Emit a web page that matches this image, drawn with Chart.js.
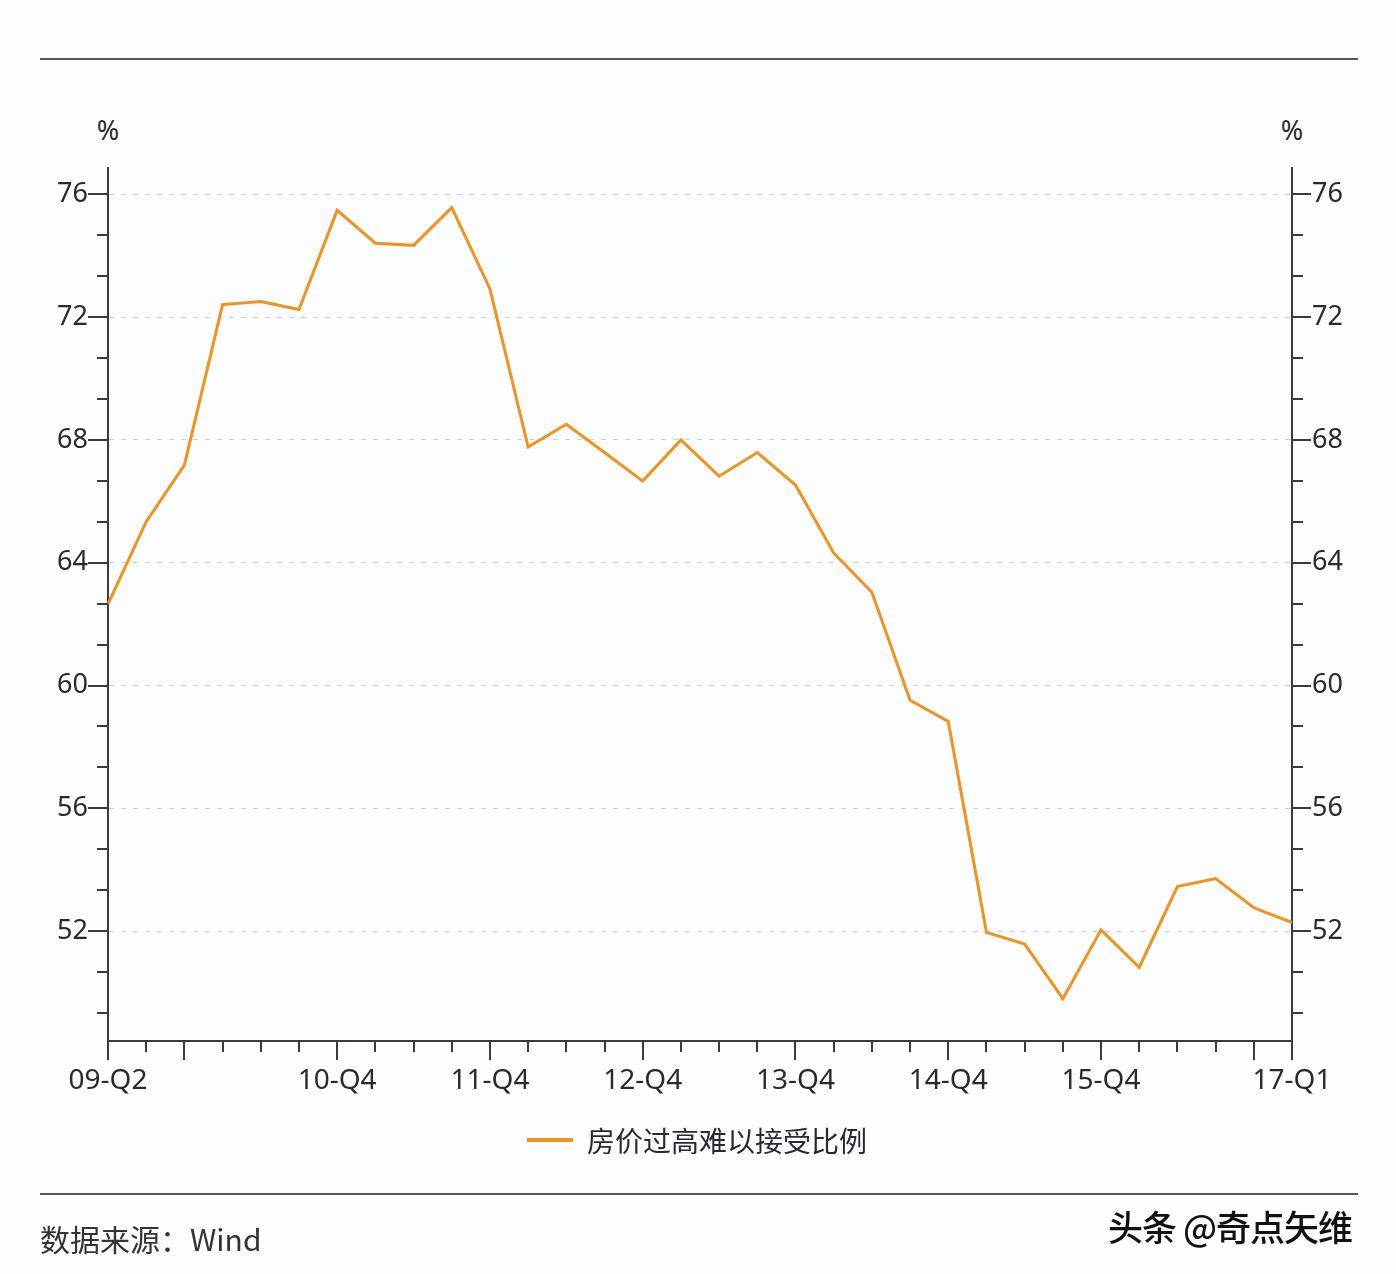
<!DOCTYPE html>
<html>
<head>
<meta charset="utf-8">
<script src="https://cdn.jsdelivr.net/npm/chart.js@4/dist/chart.umd.min.js"></script>
<style>
  html, body { margin:0; padding:0; background:#fcfdfe; }
  body { width:1396px; height:1274px; position:relative; overflow:hidden; font-family:"Noto Sans","Noto Sans CJK SC",sans-serif; }
  #c { position:absolute; left:0; top:0; }
  .rule { position:absolute; left:40px; width:1318px; height:2px; background:#55555e; }
  .unit { position:absolute; top:111px; font-size:27px; color:#2a2a2a; transform:translateX(-50%); }
  #legend { position:absolute; left:527px; top:1121px; height:38px; display:flex; align-items:center; }
  #legend .sw { width:46px; height:4px; background:#f0921c; margin-right:14px; }
  #legend .tx { font-family:"Noto Sans CJK SC",sans-serif; font-size:28px; color:#2b2733; }
  #src { position:absolute; left:40px; top:1216px; font-family:"Noto Sans CJK SC",sans-serif; font-size:30px; color:#333; }
  #wm { position:absolute; left:1108px; top:1200px; font-family:"Noto Sans CJK SC",sans-serif; font-size:35px; color:#111; font-weight:500; letter-spacing:-1px; }
</style>
</head>
<body>
<div class="rule" style="top:58px"></div>
<div class="rule" style="top:1193px"></div>
<div class="unit" style="left:108px">%</div>
<div class="unit" style="left:1292px">%</div>
<canvas id="c" width="1396" height="1274"></canvas>
<div id="legend"><div class="sw"></div><div class="tx">房价过高难以接受比例</div></div>
<div id="src">数据来源：Wind</div>
<div id="wm">头条 @奇点矢维</div>
<script>
const quarters = [
  "09-Q2","09-Q3","09-Q4",
  "10-Q1","10-Q2","10-Q3","10-Q4",
  "11-Q1","11-Q2","11-Q3","11-Q4",
  "12-Q1","12-Q2","12-Q3","12-Q4",
  "13-Q1","13-Q2","13-Q3","13-Q4",
  "14-Q1","14-Q2","14-Q3","14-Q4",
  "15-Q1","15-Q2","15-Q3","15-Q4",
  "16-Q1","16-Q2","16-Q3","16-Q4",
  "17-Q1"
];
const shownLabels = ["09-Q2","10-Q4","11-Q4","12-Q4","13-Q4","14-Q4","15-Q4","17-Q1"];
const seriesName = "房价过高难以接受比例";
const values = [
  62.65, 65.34, 67.18,
  72.41, 72.51, 72.25, 75.48,
  74.41, 74.34, 75.57, 72.92,
  67.77, 68.51, 67.59, 66.66,
  68.0, 66.82, 67.59, 66.53,
  64.32, 63.04, 59.52, 58.83,
  51.96, 51.58, 49.8, 52.04,
  50.82, 53.45, 53.71, 52.76,
  52.28
];
const yLabelValues = [52, 56, 60, 64, 68, 72, 76];
const yMin = 48.42, yMax = 76.86, yStep = 4/3;

const axisColor = '#3a3a44';
const isLabeled = v => yLabelValues.some(l => Math.abs(l - v) < 1e-6);

function buildYTicks(scale) {
  const ticks = [];
  for (let k = -10; k <= 30; k++) {
    const v = 52 + k * yStep;
    if (v >= yMin - 1e-9 && v <= yMax + 1e-9) ticks.push({ value: Math.round(v * 1e6) / 1e6 });
  }
  scale.ticks = ticks;
}

const tickMarks = {
  id: 'tickMarks',
  afterDraw(chart) {
    const { ctx, chartArea, scales } = chart;
    ctx.save();
    ctx.strokeStyle = axisColor;
    ctx.lineWidth = 2;
    ctx.beginPath();
    scales.y.ticks.forEach(t => {
      const py = Math.round(scales.y.getPixelForValue(t.value));
      const len = isLabeled(t.value) ? 20 : 11;
      ctx.moveTo(chartArea.left - len, py); ctx.lineTo(chartArea.left, py);
    });
    scales.y2.ticks.forEach(t => {
      const py = Math.round(scales.y2.getPixelForValue(t.value));
      const len = isLabeled(t.value) ? 19 : 11;
      ctx.moveTo(chartArea.right, py); ctx.lineTo(chartArea.right + len, py);
    });
    scales.x.ticks.forEach((t, i) => {
      const px = Math.round(scales.x.getPixelForTick(i));
      const lab = quarters[t.value];
      const long = i === 0 || i === scales.x.ticks.length - 1 || /Q4$/.test(lab);
      const len = long ? 19 : 11;
      ctx.moveTo(px, chartArea.bottom); ctx.lineTo(px, chartArea.bottom + len);
    });
    ctx.stroke();
    ctx.restore();
  }
};

const yFont = { family: '"Noto Sans", sans-serif', size: 27 };
const xFont = { family: '"Noto Sans", sans-serif', size: 28 };

new Chart(document.getElementById('c'), {
  type: 'line',
  data: {
    labels: quarters,
    datasets: [{
      label: seriesName,
      data: values,
      borderColor: '#f0921c',
      backgroundColor: '#f0921c',
      borderWidth: 3,
      pointRadius: 0,
      tension: 0,
      yAxisID: 'y'
    }]
  },
  options: {
    responsive: false,
    animation: false,
    layout: { padding: { top: 168, left: 0, right: 0, bottom: 0 } },
    plugins: { legend: { display: false }, tooltip: { enabled: false } },
    scales: {
      x: {
        type: 'category',
        offset: false,
        afterFit(s) { s.height = 233; },
        grid: { display: false, drawTicks: false },
        border: { display: true, color: axisColor, width: 2 },
        ticks: {
          autoSkip: false, maxRotation: 0, minRotation: 0, padding: 23,
          color: '#2a2a2a', font: xFont,
          callback(v) { const l = quarters[v]; return shownLabels.includes(l) ? l : ''; }
        }
      },
      y: {
        position: 'left',
        min: yMin, max: yMax,
        afterFit(s) { s.width = 108; },
        afterBuildTicks: buildYTicks,
        grid: {
          drawTicks: false,
          color: c => (c.tick && isLabeled(c.tick.value)) ? '#cdd0d6' : 'rgba(0,0,0,0)',
          lineWidth: 1
        },
        border: { display: true, color: axisColor, width: 2, dash: [5, 7] },
        ticks: {
          padding: 20, color: '#2a2a2a', font: yFont,
          callback(v) { return isLabeled(v) ? String(Math.round(v)) : ''; }
        }
      },
      y2: {
        position: 'right',
        min: yMin, max: yMax,
        afterFit(s) { s.width = 104; },
        afterBuildTicks: buildYTicks,
        grid: { display: false, drawTicks: false, drawOnChartArea: false },
        border: { display: true, color: axisColor, width: 2 },
        ticks: {
          padding: 20, color: '#2a2a2a', font: yFont,
          callback(v) { return isLabeled(v) ? String(Math.round(v)) : ''; }
        }
      }
    }
  },
  plugins: [tickMarks]
});
</script>
</body>
</html>
